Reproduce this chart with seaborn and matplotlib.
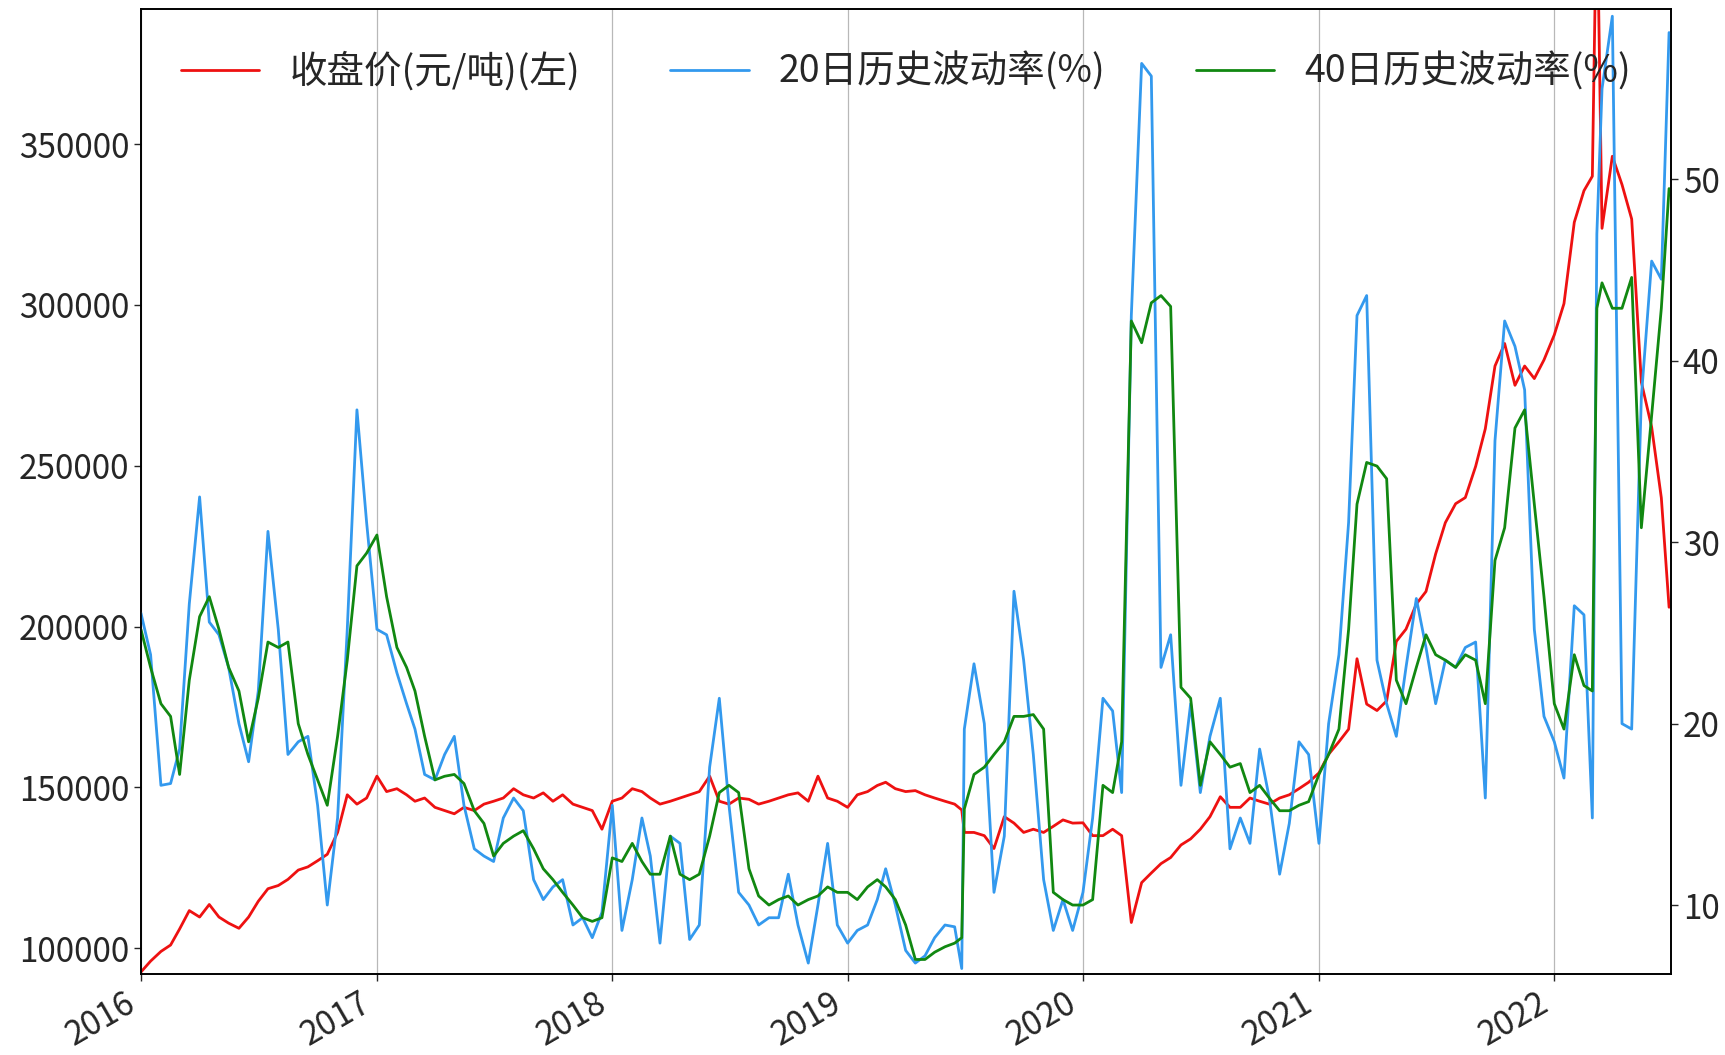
import pandas as pd
import matplotlib
matplotlib.use("Agg")
import matplotlib.pyplot as plt
import matplotlib.dates as mdates
import seaborn as sns

# dates (semi-monthly, plus a couple of extra points at sharp moves)
dates = [
    "2016-01-01", "2016-01-16", "2016-02-01", "2016-02-16", "2016-03-01", "2016-03-16",
    "2016-04-01", "2016-04-16", "2016-05-01", "2016-05-16", "2016-06-01", "2016-06-16",
    "2016-07-01", "2016-07-16", "2016-08-01", "2016-08-16", "2016-09-01", "2016-09-16",
    "2016-10-01", "2016-10-16", "2016-11-01", "2016-11-16", "2016-12-01", "2016-12-16",
    "2017-01-01", "2017-01-16", "2017-02-01", "2017-02-16", "2017-03-01", "2017-03-16",
    "2017-04-01", "2017-04-16", "2017-05-01", "2017-05-16", "2017-06-01", "2017-06-16",
    "2017-07-01", "2017-07-16", "2017-08-01", "2017-08-16", "2017-09-01", "2017-09-16",
    "2017-10-01", "2017-10-16", "2017-11-01", "2017-11-16", "2017-12-01", "2017-12-16",
    "2018-01-01", "2018-01-16", "2018-02-01", "2018-02-16", "2018-03-01", "2018-03-16",
    "2018-04-01", "2018-04-16", "2018-05-01", "2018-05-16", "2018-06-01", "2018-06-16",
    "2018-07-01", "2018-07-16", "2018-08-01", "2018-08-16", "2018-09-01", "2018-09-16",
    "2018-10-01", "2018-10-16", "2018-11-01", "2018-11-16", "2018-12-01", "2018-12-16",
    "2019-01-01", "2019-01-16", "2019-02-01", "2019-02-16", "2019-03-01", "2019-03-16",
    "2019-04-01", "2019-04-16", "2019-05-01", "2019-05-16", "2019-06-01", "2019-06-16",
    "2019-06-27", "2019-07-01", "2019-07-16", "2019-08-01", "2019-08-16", "2019-09-01",
    "2019-09-16", "2019-10-01", "2019-10-16", "2019-11-01", "2019-11-16", "2019-12-01",
    "2019-12-16",
    "2020-01-01", "2020-01-16", "2020-02-01", "2020-02-16", "2020-03-01", "2020-03-16",
    "2020-04-01", "2020-04-16", "2020-05-01", "2020-05-16", "2020-06-01", "2020-06-16",
    "2020-07-01", "2020-07-16", "2020-08-01", "2020-08-16", "2020-09-01", "2020-09-16",
    "2020-10-01", "2020-10-16", "2020-11-01", "2020-11-16", "2020-12-01", "2020-12-16",
    "2021-01-01", "2021-01-16", "2021-02-01", "2021-02-16", "2021-03-01", "2021-03-16",
    "2021-04-01", "2021-04-16", "2021-05-01", "2021-05-16", "2021-06-01", "2021-06-16",
    "2021-07-01", "2021-07-16", "2021-08-01", "2021-08-16", "2021-09-01", "2021-09-16",
    "2021-10-01", "2021-10-16", "2021-11-01", "2021-11-16", "2021-12-01", "2021-12-16",
    "2022-01-01", "2022-01-16", "2022-02-01", "2022-02-16", "2022-03-01", "2022-03-08",
    "2022-03-16", "2022-04-01", "2022-04-16", "2022-05-01", "2022-05-16", "2022-06-01",
    "2022-06-16", "2022-06-28",
]

# closing price, yuan/ton (left axis)
close_price = [
    92600, 96000, 99000, 101000, 106000, 111700, 109700, 113600, 109700, 107800, 106200, 109700,
    114600, 118500, 119500, 121400, 124300, 125300, 127200, 129200, 136000, 147700, 144800, 146700,
    153500, 148700, 149600, 147700, 145700, 146700, 143800, 142800, 141800, 143800, 142800, 144800,
    145700, 146700, 149600, 147700, 146700, 148300, 145700, 147700, 144800, 143800, 142800, 137000,
    145700, 146700, 149600, 148700, 146700, 144800, 145700, 146700, 147700, 148700, 153500, 145700,
    144800, 146700, 146300, 144800, 145700, 146700, 147700, 148300, 145700, 153500, 146700, 145700,
    143800, 147700, 148700, 150600, 151600, 149600, 148700, 149000, 147700, 146700, 145700, 144800,
    143000, 136000, 136000, 135000, 131000, 140900, 138900, 136000, 137000, 136000, 137900, 139900,
    138900,
    139000, 135000, 135000, 137000, 135000, 108000, 120400, 123400, 126300, 128200, 132100, 134000,
    137000, 140900, 147100, 143800, 143800, 146700, 145700, 144800, 146700, 147700, 149600, 151600,
    154500, 160300, 164200, 168100, 190000, 175900, 173900, 176900, 195400, 199200, 207000, 210900,
    222600, 232300, 238200, 240100, 249800, 261500, 281000, 288000, 275000, 281000, 277100, 282900,
    290700, 300400, 325700, 335500, 340000, 430000, 323800, 346200, 337400, 326700, 276000, 262000,
    240000, 206000,
]

# 20-day historical volatility, % (right axis)
vol_20d = [
    26.1, 23.8, 16.6, 16.7, 18.6, 26.6, 32.5, 25.6, 24.9, 23.1, 20.0, 17.9,
    21.8, 30.6, 25.2, 18.3, 19.0, 19.3, 15.5, 10.0, 14.8, 25.2, 37.3, 31.1,
    25.2, 24.9, 22.8, 21.1, 19.7, 17.2, 16.9, 18.3, 19.3, 15.5, 13.1, 12.7,
    12.4, 14.8, 15.9, 15.2, 11.4, 10.3, 11.0, 11.4, 8.9, 9.3, 8.2, 9.6,
    15.5, 8.6, 11.4, 14.8, 12.7, 7.9, 13.8, 13.4, 8.1, 8.9, 17.6, 21.4,
    15.5, 10.7, 10.0, 8.9, 9.3, 9.3, 11.7, 8.9, 6.8, 10.0, 13.4, 8.9,
    7.9, 8.6, 8.9, 10.3, 12.0, 10.0, 7.5, 6.8, 7.2, 8.2, 8.9, 8.8,
    6.5, 19.7, 23.3, 20.0, 10.7, 13.8, 27.3, 23.5, 18.3, 11.4, 8.6, 10.3,
    8.6,
    10.7, 14.8, 21.4, 20.7, 16.2, 42.5, 56.4, 55.7, 23.1, 24.9, 16.6, 21.1,
    16.2, 19.3, 21.4, 13.1, 14.8, 13.4, 18.6, 15.9, 11.7, 14.5, 19.0, 18.3,
    13.4, 20.0, 23.8, 31.1, 42.5, 43.6, 23.5, 21.1, 19.3, 23.1, 26.9, 24.2,
    21.1, 23.5, 23.1, 24.2, 24.5, 15.9, 35.6, 42.2, 40.8, 38.4, 25.2, 20.4,
    19.0, 17.0, 26.5, 26.0, 14.8, 47.0, 55.0, 59.0, 20.0, 19.7, 38.0, 45.5,
    44.5, 58.1,
]

# 40-day historical volatility, % (right axis)
vol_40d = [
    25.2, 23.1, 21.1, 20.4, 17.2, 22.4, 25.9, 27.0, 25.2, 23.1, 21.8, 19.0,
    21.4, 24.5, 24.2, 24.5, 20.0, 18.3, 16.9, 15.5, 19.3, 23.5, 28.7, 29.4,
    30.4, 27.0, 24.2, 23.1, 21.8, 19.3, 16.9, 17.1, 17.2, 16.7, 15.2, 14.5,
    12.7, 13.4, 13.8, 14.1, 13.1, 12.0, 11.4, 10.7, 10.0, 9.3, 9.1, 9.3,
    12.6, 12.4, 13.4, 12.4, 11.7, 11.7, 13.8, 11.7, 11.4, 11.7, 13.8, 16.2,
    16.6, 16.2, 12.0, 10.5, 10.0, 10.3, 10.5, 10.0, 10.3, 10.5, 11.0, 10.7,
    10.7, 10.3, 11.0, 11.4, 11.0, 10.3, 8.9, 7.0, 7.0, 7.4, 7.7, 7.9,
    8.2, 15.3, 17.2, 17.6, 18.3, 19.0, 20.4, 20.4, 20.5, 19.7, 10.7, 10.3,
    10.0,
    10.0, 10.3, 16.6, 16.2, 19.0, 42.2, 41.0, 43.2, 43.6, 43.0, 22.0, 21.4,
    16.6, 19.0, 18.3, 17.6, 17.8, 16.2, 16.6, 15.9, 15.2, 15.2, 15.5, 15.7,
    17.2, 18.3, 19.7, 25.2, 32.1, 34.4, 34.2, 33.5, 22.4, 21.1, 23.1, 24.9,
    23.8, 23.5, 23.1, 23.8, 23.5, 21.1, 29.0, 30.8, 36.3, 37.3, 32.1, 27.0,
    21.1, 19.7, 23.8, 22.1, 21.8, 42.9, 44.3, 42.9, 42.9, 44.6, 30.8, 37.0,
    42.9, 49.5,
]

df = pd.DataFrame({
    "date": pd.to_datetime(dates),
    "close": close_price,
    "vol20": vol_20d,
    "vol40": vol_40d,
})

sns.set_style("ticks")
plt.rcParams["font.family"] = ["Noto Sans CJK SC", "DejaVu Sans"]
plt.rcParams["axes.unicode_minus"] = False

fig = plt.figure(figsize=(17.25, 10.55), dpi=100)
ax = fig.add_axes([0.0817, 0.0768, 0.887, 0.9147])
ax2 = ax.twinx()

sns.lineplot(data=df, x="date", y="close", ax=ax, color="#ee1111", lw=2.0,
             label="收盘价(元/吨)(左)", legend=False)
sns.lineplot(data=df, x="date", y="vol20", ax=ax2, color="#3399ee", lw=2.0,
             label="20日历史波动率(%)", legend=False)
sns.lineplot(data=df, x="date", y="vol40", ax=ax2, color="#118811", lw=2.0,
             label="40日历史波动率(%)", legend=False)

ax.set_xlim(pd.Timestamp("2016-01-01"), pd.Timestamp("2022-07-01"))
ax.set_ylim(92000, 392000)
ax2.set_ylim(6.2, 59.4)
ax.set_yticks([100000, 150000, 200000, 250000, 300000, 350000])
ax2.set_yticks([10, 20, 30, 40, 50])

ax.xaxis.set_major_locator(mdates.YearLocator())
ax.xaxis.set_major_formatter(mdates.DateFormatter("%Y"))
ax.grid(axis="x", color="#b8b8b8", lw=0.9)
ax.set_xlabel("")
ax.set_ylabel("")
ax2.set_ylabel("")

ax.tick_params(axis="both", labelsize=24, length=5, width=1)
ax2.tick_params(axis="y", labelsize=24, length=5, width=1)
for lbl in ax.get_xticklabels():
    lbl.set_rotation(30)
    lbl.set_ha("right")

for a in (ax, ax2):
    for s in a.spines.values():
        s.set_color("black")
        s.set_linewidth(1.2)

handles = ax.get_lines()[:1] + ax2.get_lines()[:2]
labels = [h.get_label() for h in handles]
ax2.legend(handles, labels, loc="upper center", bbox_to_anchor=(0.5, 0.99),
           ncol=3, frameon=False, fontsize=27, handlelength=2.1,
           handletextpad=0.8, columnspacing=2.4)

fig.savefig("out.png", dpi=100)
